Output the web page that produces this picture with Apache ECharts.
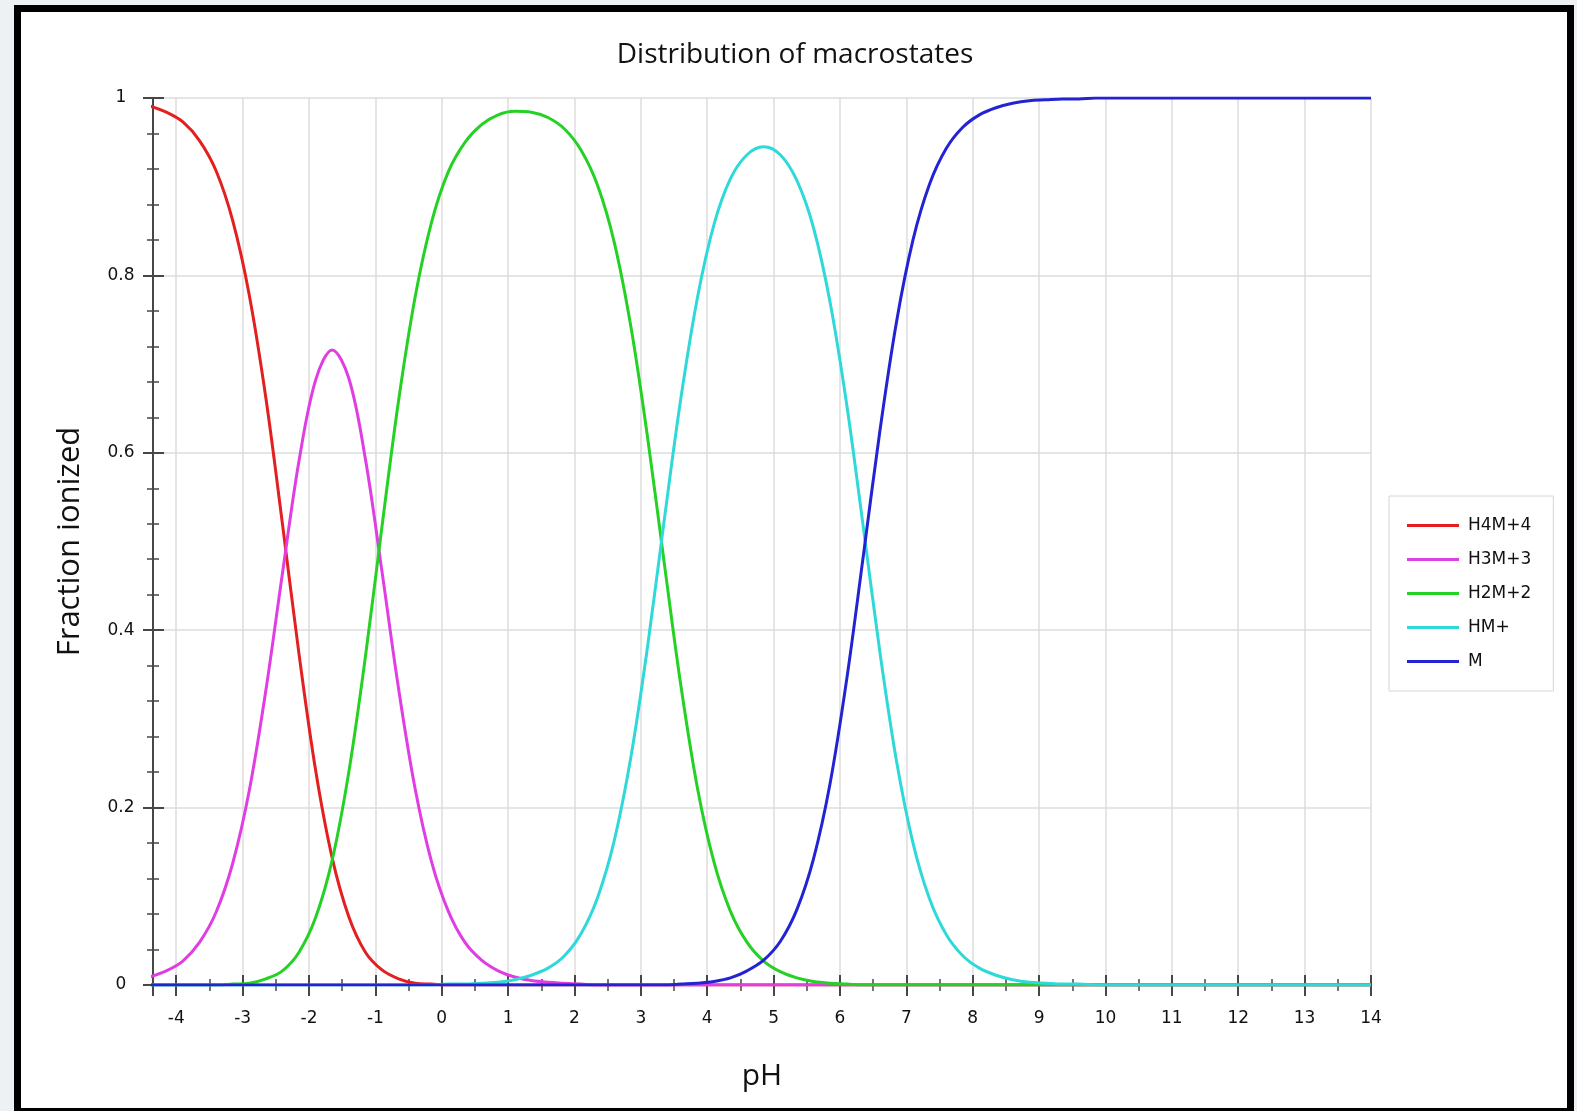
<!DOCTYPE html>
<html>
<head>
<meta charset="utf-8">
<script src="https://cdn.jsdelivr.net/npm/echarts@6/dist/echarts.min.js"></script>
<style>
    html, body { margin: 0; padding: 0; background: #eef1f4; }
    #frame {
        position: absolute; left: 14px; top: 5px; width: 1560px; height: 1106px;
        box-sizing: border-box; border: 7px solid #000; border-bottom-width: 3px; background: #fff;
    }
    #main { position: absolute; left: 0; top: 0; width: 1577px; height: 1111px; }
</style>
</head>
<body>
<div id="frame"></div>
<div id="main"></div>
<script>
// pH sample points (grid chosen so the peaks fall on a sample); first one sits just past the axis and gets clipped
const phValues = [
    -4.4, -4.15, -3.9, -3.65, -3.4, -3.15, -2.9, -2.65, -2.4, -2.15,
    -1.9, -1.65, -1.4, -1.15, -0.9, -0.65, -0.4, -0.15, 0.1, 0.35,
    0.6, 0.85, 1.1, 1.35, 1.6, 1.85, 2.1, 2.35, 2.6, 2.85,
    3.1, 3.35, 3.6, 3.85, 4.1, 4.35, 4.6, 4.85, 5.1, 5.35,
    5.6, 5.85, 6.1, 6.35, 6.6, 6.85, 7.1, 7.35, 7.6, 7.85,
    8.1, 8.35, 8.6, 8.85, 9.1, 9.35, 9.6, 9.85, 11, 12,
    13, 14
];

// fraction of each macrostate
const h4m = [
    0.991, 0.984, 0.973, 0.952, 0.918, 0.862, 0.778, 0.662, 0.520, 0.373,
    0.242, 0.143, 0.077, 0.037, 0.017, 0.007, 0.002, 0.001, 0, 0,
    0, 0, 0, 0, 0, 0, 0, 0, 0, 0,
    0, 0, 0, 0, 0, 0, 0, 0, 0, 0,
    0, 0, 0, 0, 0, 0, 0, 0, 0, 0,
    0, 0, 0, 0, 0, 0, 0, 0, 0, 0,
    0, 0
];
const h3m = [
    0.009, 0.016, 0.027, 0.048, 0.082, 0.137, 0.219, 0.332, 0.464, 0.591,
    0.682, 0.716, 0.684, 0.593, 0.466, 0.334, 0.221, 0.138, 0.083, 0.048,
    0.028, 0.016, 0.009, 0.005, 0.003, 0.002, 0.001, 0, 0, 0,
    0, 0, 0, 0, 0, 0, 0, 0, 0, 0,
    0, 0, 0, 0, 0, 0, 0, 0, 0, 0,
    0, 0, 0, 0, 0, 0, 0, 0, 0, 0,
    0, 0
];
const h2m = [
    0, 0, 0, 0, 0, 0.001, 0.002, 0.007, 0.016, 0.037,
    0.076, 0.141, 0.240, 0.370, 0.517, 0.659, 0.776, 0.861, 0.917, 0.950,
    0.970, 0.981, 0.985, 0.984, 0.978, 0.965, 0.941, 0.901, 0.837, 0.742,
    0.618, 0.477, 0.339, 0.223, 0.139, 0.083, 0.048, 0.027, 0.015, 0.008,
    0.004, 0.002, 0.001, 0, 0, 0, 0, 0, 0, 0,
    0, 0, 0, 0, 0, 0, 0, 0, 0, 0,
    0, 0
];
const hm = [
    0, 0, 0, 0, 0, 0, 0, 0, 0, 0,
    0, 0, 0, 0, 0, 0, 0, 0, 0.001, 0.001,
    0.002, 0.003, 0.006, 0.011, 0.019, 0.033, 0.058, 0.099, 0.163, 0.257,
    0.381, 0.523, 0.660, 0.774, 0.857, 0.909, 0.936, 0.945, 0.936, 0.907,
    0.854, 0.770, 0.655, 0.517, 0.376, 0.253, 0.160, 0.097, 0.057, 0.033,
    0.019, 0.011, 0.006, 0.003, 0.002, 0.001, 0.001, 0, 0, 0,
    0, 0
];
const m = [
    0, 0, 0, 0, 0, 0, 0, 0, 0, 0,
    0, 0, 0, 0, 0, 0, 0, 0, 0, 0,
    0, 0, 0, 0, 0, 0, 0, 0, 0, 0,
    0, 0, 0.001, 0.002, 0.004, 0.008, 0.016, 0.028, 0.049, 0.085,
    0.142, 0.227, 0.344, 0.483, 0.624, 0.747, 0.840, 0.903, 0.943, 0.967,
    0.981, 0.989, 0.994, 0.997, 0.998, 0.999, 0.999, 1, 1, 1,
    1, 1
];

const seriesNames = ['H4M+4', 'H3M+3', 'H2M+2', 'HM+', 'M'];
const seriesColors = ['#e3201f', '#e03de3', '#25d125', '#2fd9d9', '#2323d4'];
const seriesData = [h4m, h3m, h2m, hm, m];

const axisColor = '#474747';
const gridColor = '#dcdcdc';
const labelFont = 'DejaVu Sans';
const nameFont = 'Open Sans';

const chart = echarts.init(document.getElementById('main'), null, { renderer: 'canvas' });

// two copies of each axis: outward ticks + labels, and inward ticks, so ticks cross the line
const xBase = {
    type: 'value',
    min: -4.35,
    max: 14,
    minInterval: 1,
    maxInterval: 1,
    splitNumber: 18,
    position: 'bottom'
};
const yBase = {
    type: 'value',
    min: 0,
    max: 1,
    interval: 0.2,
    position: 'left'
};

const option = {
    animation: false,
    title: {
        text: 'Distribution of macrostates',
        left: 790,
        top: 36,
        textAlign: 'center',
        textStyle: { fontFamily: nameFont, fontSize: 28, fontWeight: 'normal', color: '#111' }
    },
    legend: {
        orient: 'vertical',
        left: 1389,
        top: 496,
        padding: [21, 22, 21, 18],
        itemGap: 17,
        itemWidth: 52,
        itemHeight: 3,
        icon: 'rect',
        backgroundColor: '#fff',
        borderColor: '#d6d6d6',
        borderWidth: 1,
        data: seriesNames,
        textStyle: { fontFamily: labelFont, fontSize: 17, color: '#111', padding: [0, 0, 0, 4] }
    },
    grid: { left: 153, right: 206, top: 98, bottom: 126, containLabel: false },
    xAxis: [
        Object.assign({}, xBase, {
            name: 'pH',
            nameLocation: 'middle',
            nameGap: 76,
            nameTextStyle: { fontFamily: nameFont, fontSize: 30, color: '#111' },
            axisLine: { show: true, onZero: false, lineStyle: { color: axisColor, width: 2 } },
            axisTick: { show: true, length: 11, lineStyle: { color: axisColor, width: 2 } },
            minorTick: { show: true, splitNumber: 2, length: 6, lineStyle: { color: axisColor, width: 1.5 } },
            axisLabel: { showMinLabel: false, margin: 25, fontFamily: labelFont, fontSize: 17, color: '#111' },
            splitLine: { show: true, lineStyle: { color: gridColor, width: 1.5 } }
        }),
        Object.assign({}, xBase, {
            axisLine: { show: false, onZero: false },
            axisTick: { show: true, inside: true, length: 10, lineStyle: { color: axisColor, width: 2 } },
            minorTick: { show: true, splitNumber: 2, length: 6, lineStyle: { color: axisColor, width: 1.5 } },
            axisLabel: { show: false },
            splitLine: { show: false }
        })
    ],
    yAxis: [
        Object.assign({}, yBase, {
            name: 'Fraction ionized',
            nameLocation: 'middle',
            nameGap: 67,
            nameTextStyle: { fontFamily: nameFont, fontSize: 31, color: '#111' },
            axisLine: { show: true, onZero: false, lineStyle: { color: axisColor, width: 2 } },
            axisTick: { show: true, length: 10, lineStyle: { color: axisColor, width: 2 } },
            minorTick: { show: true, splitNumber: 5, length: 6, lineStyle: { color: axisColor, width: 1.5 } },
            axisLabel: { margin: 32, align: 'center', fontFamily: labelFont, fontSize: 17, color: '#111' },
            splitLine: { show: true, lineStyle: { color: gridColor, width: 1.5 } }
        }),
        Object.assign({}, yBase, {
            axisLine: { show: false, onZero: false },
            axisTick: { show: true, inside: true, length: 11, lineStyle: { color: axisColor, width: 2 } },
            minorTick: { show: true, splitNumber: 5, length: 6, lineStyle: { color: axisColor, width: 1.5 } },
            axisLabel: { show: false },
            splitLine: { show: false }
        })
    ],
    series: seriesNames.map((name, i) => ({
        name: name,
        type: 'line',
        xAxisIndex: 0,
        yAxisIndex: 0,
        data: phValues.map((ph, j) => [ph, seriesData[i][j]]),
        smooth: 0.35,
        showSymbol: false,
        clip: true,
        color: seriesColors[i],
        lineStyle: { width: 3, color: seriesColors[i] }
    }))
};

chart.setOption(option);
</script>
</body>
</html>
